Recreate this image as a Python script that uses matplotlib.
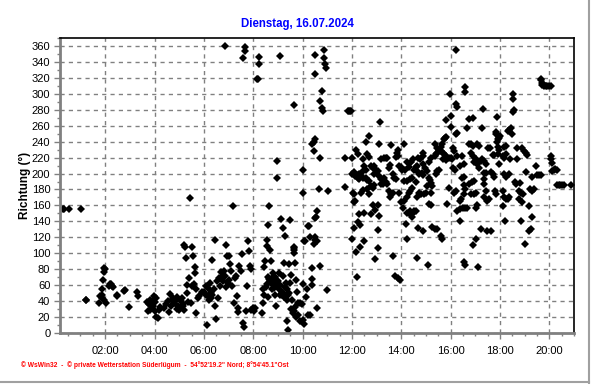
import numpy as np
import matplotlib
matplotlib.use("Agg")
import matplotlib.pyplot as plt
from matplotlib.lines import Line2D
from matplotlib.ticker import MultipleLocator, FixedLocator, FuncFormatter

plt.rcParams['font.family'] = ['Liberation Sans', 'DejaVu Sans']

# wind direction readings, (hour of day, degrees)
night = [(0.28,155),(0.33,155),(0.55,155),(1.04,155),(1.22,41),(1.24,42),
         (1.95,82),(1.97,77),(1.9,66),(1.88,55),(1.8,46),(1.88,44),(1.75,38),(2.05,38),(1.96,42),(1.86,48),(1.98,80),
         (2.15,59),(2.2,61),(2.27,59),(2.33,58),(2.25,62),
         (2.46,47),(2.5,48),(2.76,53),(2.81,54),(2.96,33),(3.3,52),(3.35,47),
         (3.7,39),(3.76,37),(3.8,29),(3.85,34),(3.9,40),(3.97,46),(3.94,34),(4.0,27),(4.04,39),(4.08,20),
         (4.13,19),(4.18,29),(4.24,33),(4.05,44),(3.73,27),(3.82,42),(3.88,36)]

morning = [(4.4,31),(4.47,37),(4.54,40),(4.6,26),(4.62,49),(4.66,34),(4.73,44),(4.8,38),(4.86,41),(4.93,45),
           (4.97,34),(5.0,29),(5.06,40),(5.1,44),(5.16,36),(5.2,29),(5.14,34),(4.9,30),(5.03,31),(4.7,42),
           (5.2,111),(5.24,108),(5.27,94),(5.3,60),(5.33,50),(5.4,69),(5.37,39),(5.45,169),(5.51,108),(5.54,97),
           (5.51,59),(5.47,38),(5.63,83),(5.65,75),(5.6,62),(5.68,55),(5.7,25),(5.77,44),(5.81,47),
           (5.93,52),(6.0,52),(6.09,59),(6.14,10),(6.18,46),(6.22,55),(6.24,63),(6.3,44),(6.33,92),(6.35,48),
           (6.42,55),(6.45,117),(6.47,34),(6.5,17),(6.53,65),(6.57,44),(6.6,69),(6.1,48),(6.2,42),(6.27,50),
           (6.66,59),(6.7,76),(6.76,65),(6.8,78),(6.86,71),(6.9,111),(6.94,97),(6.97,63),(7.0,97),(7.04,86),
           (7.08,78),(7.14,59),(7.18,159),(7.22,38),(7.27,69),(7.31,71),(7.35,46),(7.38,31),(7.4,26),(6.86,360),
           (6.75,70),(6.9,58),(7.02,66),(7.43,84),(7.49,78),(7.54,99),(7.6,13),(7.64,8),(7.7,27),(7.73,59),
           (7.8,115),(7.83,103),(7.87,84),(7.9,80),(7.93,29),(8.0,31),(8.07,31),(8.03,28),
           (7.6,345),(7.66,359),(7.66,354)]

forenoon = [(8.15,318),(8.2,318),(8.22,338),(8.25,346),(9.08,347),(9.65,286),
            (8.34,25),(8.41,38),(8.43,83),(8.47,90),(8.54,117),(8.57,109),(8.61,136),(8.65,159),(8.7,104),
            (8.74,90),(8.78,69),(8.81,75),(8.84,57),(8.88,48),(8.92,34),(8.95,195),(8.97,216),(9.01,65),
            (9.05,75),(9.08,48),(9.11,143),(9.15,48),(9.19,71),(9.22,132),(9.24,88),(9.28,122),(9.32,63),
            (9.35,55),(9.38,15),(9.42,4),(9.46,86),(9.49,142),(9.51,63),(9.55,73),(9.59,42),(9.65,107),
            (9.69,88),(9.73,67),(9.76,52),(9.82,38),
            (8.5,58),(8.55,62),(8.6,70),(8.65,68),(8.7,65),(8.75,55),(8.8,60),(8.85,66),(8.9,70),(8.95,62),
            (9.0,58),(9.05,55),(9.1,60),(9.15,52),(9.2,50),(9.25,45),(9.3,58),(9.35,42),(9.4,48),(9.45,50),
            (9.55,30),(9.6,25),(9.65,28),(9.7,33),(9.75,20),(9.8,23),(8.45,48),(8.6,45),(8.4,55),
            (9.64,108),(9.64,104),(9.64,100),(10.1,116),(10.25,134),(10.3,120),(10.5,117),(10.48,112),
            (10.0,204),(10.4,237),(10.2,55),(10.15,45),(10.4,60),(10.0,16),(10.05,11)]

midday = [(10.45,239),(10.51,243),(10.45,228),(10.69,219),(10.01,175),(10.65,180),(11.05,178),(11.73,220),
          (12.0,220),(11.73,183),(10.58,153),(10.55,146),(10.51,144),(10.24,134),(10.04,115),(10.51,120),
          (10.6,115),(10.38,82),(10.69,84),(10.01,62),(10.38,68),(11.01,54),(9.9,38),(9.97,36),(10.24,23),
          (10.31,22),(10.58,31),(9.9,15),
          (10.49,349),(10.88,355),(10.86,345),(10.9,337),(10.93,333),(10.49,325),(10.8,304),(10.7,291),
          (10.78,282),(10.81,278),(11.86,278),(11.9,279),(11.93,279),(11.97,278),(13.12,265),
          (12.7,247),(12.57,240),(13.1,237),(13.58,236),(13.85,230),(13.83,226),(14.1,237),
          (12.16,229),(12.26,224),(12.63,224),(12.7,221),
          (12.43,218),(13.17,218),(13.3,219),(13.37,220),(13.44,219),(13.8,221),(13.85,222),
          (13.55,211),(13.52,207),(13.9,210),(13.97,208),(14.03,205),
          (12.77,209),(12.84,207),(12.9,209),(12.5,209),(12.57,205),(12.43,203),
          (12.0,199),(12.07,202),(12.14,197),(12.2,198),(12.3,199),(12.36,197),(12.43,195),
          (12.23,195),(12.3,193),(12.57,195),(12.63,192),(12.7,191),
          (12.97,205),(13.04,203),(12.9,199),(13.1,197),(13.17,193),(13.24,187),
          (13.3,195),(13.37,189),(13.44,187),(13.17,187),(13.65,199),(13.71,195),(13.78,193),
          (13.51,178),(13.58,174),(13.65,176),(13.55,170),(13.9,176),
          (12.03,176),(12.1,174),(12.13,166),(12.07,164),(12.36,176),(12.43,179),
          (12.63,180),(12.7,174),(12.84,182),(12.9,186),(12.77,184),
          (12.84,161),(13.04,161),(13.1,147),(12.93,154),(12.3,149),(12.5,151),(12.77,149),
          (13.98,164),(14.05,157),(12.23,139),(12.34,136),(12.07,132),(13.04,129),
          (12.0,118),(12.5,116),(12.33,108),(12.16,101),(13.04,107),(12.93,93),(13.65,96),
          (12.2,70),(13.74,72),(13.85,69),(13.96,67)]

afternoon = [(16.23,355),(15.97,300),(16.23,287),(16.25,283),(16.58,308),(16.6,302),(17.32,281),(16.75,269),
             (16.9,270),(15.82,267),(16.03,272),(16.03,258),(16.67,257),(17.28,257),(16.2,250),(16.27,251),
             (15.73,243),(15.8,246),(15.77,244),(15.66,237),(15.6,233),(15.35,237),(15.46,232),(15.53,230),
             (15.6,228),(15.7,226),(15.73,224),(15.8,222),(16.1,232),(16.13,228),(16.27,222),(16.48,222),
             (16.75,237),(16.82,237),(16.9,235),(17.08,237),(17.15,235),(17.53,232),(17.58,232),(16.82,226),
             (16.9,222),(16.55,212),(16.4,210),(16.0,220),(16.07,218),(15.93,220),(16.1,207),(16.16,205),
             (15.7,218),(15.8,217),(15.46,226),(15.39,224),(15.35,222),(15.19,220),(15.12,215),(14.9,226),
             (14.87,222),(14.75,218),(14.68,220),(14.49,218),(14.41,214),(14.65,210),(14.58,208),(14.51,205),
             (14.24,214),(14.31,208),(14.17,205),(14.1,191),(14.24,191),(14.37,193),(14.44,195),(14.9,212),
             (14.97,207),(15.05,203),(14.85,201),(14.89,198),(14.65,203),(14.72,199),(14.58,189),(15.12,195),
             (15.16,192),(15.19,188),(14.72,176),(14.65,170),(14.78,174),(14.92,174),(14.99,176),(15.03,184),
             (15.19,176),(15.25,184),(15.39,199),(15.46,203),(15.53,205),(14.44,182),(14.37,178),(14.31,175),
             (14.1,166),(14.24,170),(14.24,151),(14.31,151),(14.37,153),(14.44,149),(14.44,145),(14.51,153),
             (14.58,153),(14.2,137),(14.24,118),(14.68,132),(14.89,128),(15.25,133),(15.35,131),(15.46,130),
             (15.62,122),(15.66,118),(14.65,94),(15.09,85),(15.12,162),(15.19,160),(15.86,162),(15.93,182),
             (16.13,176),(16.2,178),(16.27,153),(16.38,155),(16.4,166),(16.43,168),(16.38,141),(16.51,157),
             (16.6,157),(16.67,157),(16.55,174),(16.6,180),(16.55,186),(16.48,195),(16.55,196),(16.75,187),
             (16.82,174),(16.94,174),(17.01,176),(16.87,189),(16.94,191),(17.01,157),(17.08,160),(16.94,214),
             (17.01,218),(17.08,212),(17.15,207),(17.22,216),(17.28,218),(17.35,216),(17.42,212),(17.35,201),
             (17.42,201),(17.35,187),(17.42,178),(17.35,170),(17.49,166),(17.55,168),(17.35,193),(17.22,130),
             (17.01,118),(16.9,110),(17.1,83),(16.55,89),(16.58,85),(17.49,128)]

evening = [(19.65,317),(19.67,319),(19.69,314),(19.76,312),(19.85,310),(19.92,310),(19.99,310),(20.05,310),
           (19.72,311),(19.8,310),(18.51,300),(18.51,293),(18.55,280),(18.51,277),(17.88,271),(17.85,252),
           (17.85,249),(18.44,257),(18.38,255),(18.31,253),(18.47,249),(17.93,243),(17.97,245),(18.01,247),
           (17.88,240),(18.71,232),(18.91,232),(18.98,228),(19.05,226),(19.11,223),(18.24,234),(18.17,233),
           (17.93,233),(17.97,229),(17.93,224),(17.71,223),(17.77,223),(18.11,222),(18.17,220),(18.24,225),
           (18.42,218),(18.68,218),(17.97,212),(19.45,210),(20.05,222),(20.08,218),(20.12,213),
           (20.12,203),(20.19,205),(20.25,206),(20.32,205),(17.64,202),(17.71,200),(17.77,196),
           (18.17,199),(18.24,196),(18.38,199),(19.05,202),(19.31,196),(19.51,198),(19.58,198),(19.65,198),
           (18.6,189),(18.64,187),(18.82,188),(17.8,178),(17.84,174),(18.11,178),(18.15,170),(18.24,168),
           (18.34,168),(18.38,171),(18.78,178),(18.85,176),(18.95,174),(19.22,180),(19.31,178),(19.36,180),
           (20.32,186),(20.39,186),(20.45,186),(20.52,186),(20.6,186),(20.86,186),(18.78,168),(18.91,164),
           (18.11,159),(18.2,140),(17.64,128),(18.85,140),(19.18,159),(19.31,146),(19.18,128),(19.25,130),
           (19.0,112)]

hour_ticks = [2, 4, 6, 8, 10, 12, 14, 16, 18, 20]
title = "Dienstag, 16.07.2024"
ylabel = "Richtung (°)"
footer = "\u00a9 WsWin32  -  \u00a9 private Wetterstation Süderlügum  -  54°52'19.2\" Nord; 8°54'45.1\"Ost"

fig = plt.figure(figsize=(5.92, 3.84), dpi=100)
ax = fig.add_axes([60/592, 1-333/384, (574-60)/592, (333-38)/384])

for seg in [night, morning, forenoon, midday, afternoon, evening]:
    arr = np.array(seg)
    ax.plot(arr[:, 0], arr[:, 1], 'D', color='black', markersize=3.6, markeredgewidth=0)

ax.set_xlim(0.17, 21.0)
ax.set_ylim(0, 370)
ax.xaxis.set_major_locator(FixedLocator(hour_ticks))
ax.xaxis.set_minor_locator(MultipleLocator(0.5))
ax.xaxis.set_major_formatter(FuncFormatter(lambda v, p: "%02d:00" % int(round(v))))
ax.yaxis.set_minor_locator(MultipleLocator(10))
ax.set_yticks(range(0, 361, 20))

ax.grid(True, which='major', color='#808080', linestyle=(0, (3, 3)), linewidth=1)
ax.tick_params(which='major', labelsize=8, length=4, width=1, color='#808080', pad=3)
ax.tick_params(which='minor', length=2, width=1, color='#808080')
ax.tick_params(axis='x', pad=5)

for s in ['left', 'bottom']:
    ax.spines[s].set_color('#808080')
    ax.spines[s].set_linewidth(2)
for s in ['top', 'right']:
    ax.spines[s].set_color('black')
    ax.spines[s].set_linewidth(1.2)

fig.text(297/592, 1-24/384, title, color='#0000ff', fontsize=8.3, fontweight='bold', ha='center', va='center')
fig.text(25/592, 1-185/384, ylabel, fontsize=8.5, fontweight='bold', rotation=90, ha='center', va='center')
fig.text(21/592, 1-365/384, footer, color='#ff0000', fontsize=4.8, fontweight='bold', ha='left', va='center')

fig.add_artist(Line2D([589/592, 589/592], [1-383/384, 1], transform=fig.transFigure, color='#a0a0a0', lw=1.5))
fig.add_artist(Line2D([0, 589/592], [1-382/384, 1-382/384], transform=fig.transFigure, color='#a0a0a0', lw=1.5))

fig.savefig("out.png", dpi=100)
